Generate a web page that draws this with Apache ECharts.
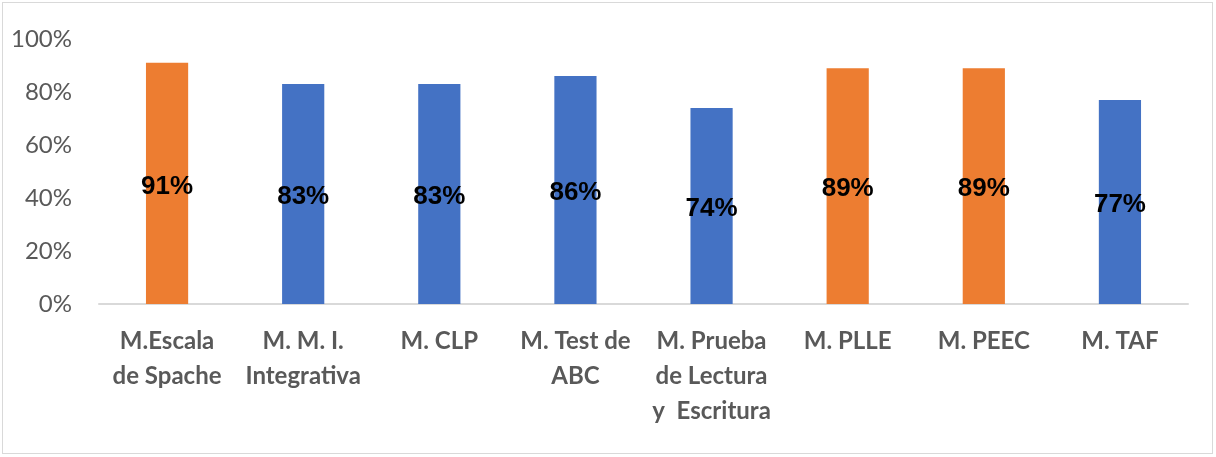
<!DOCTYPE html>
<html><head><meta charset="utf-8">
<script src="https://cdn.jsdelivr.net/npm/echarts@6/dist/echarts.min.js"></script>
<style>html,body{margin:0;padding:0;background:#fff}#c{box-sizing:border-box;border:1px solid #d9d9d9;position:absolute;left:2px;top:2px;width:1211px;height:452px}</style>
</head><body><div id="c"></div>
<script>
const categories = ["M.Escala\nde Spache","M. M. I.\nIntegrativa","M. CLP","M. Test de\nABC","M. Prueba\nde Lectura\ny  Escritura","M. PLLE","M. PEEC","M. TAF"];
const values = [91,83,83,86,74,89,89,77];
const highlighted = [true,false,false,false,false,true,true,false];
const yTicks = [0,20,40,60,80,100];

const chart = echarts.init(document.getElementById('c'));
chart.setOption({
  animation:false,
  grid:{left:96,right:24,top:36,bottom:149},
  xAxis:{type:'category',data:categories,
    axisLine:{lineStyle:{color:'#d9d9d9',width:2}},axisTick:{show:false},
    axisLabel:{interval:0,color:'#595959',fontFamily:'Lato',fontWeight:'bold',fontSize:24,lineHeight:35,margin:20}},
  yAxis:{type:'value',min:yTicks[0],max:yTicks[yTicks.length-1],interval:20,
    splitLine:{show:false},axisLine:{show:false},axisTick:{show:false},
    axisLabel:{formatter:'{value}%',color:'#595959',fontFamily:'Lato',fontSize:24,margin:27}},
  series:[{type:'bar',barWidth:'31%',
    data:values.map((v,i)=>({value:v,itemStyle:{color:highlighted[i]?'#ED7D31':'#4472C4'}})),
    label:{show:true,position:'inside',formatter:'{c}%',color:'#000',fontFamily:'Liberation Sans',fontWeight:'bold',fontSize:26,offset:[0,3]}}]
});
</script></body></html>
